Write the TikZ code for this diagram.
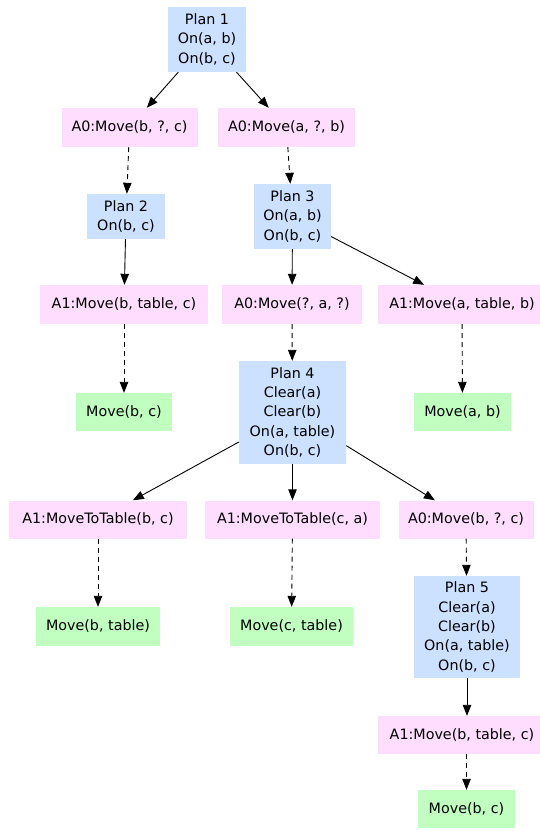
\documentclass[tikz,border=0pt]{standalone}
\usepackage{fontspec}
\setmainfont{DejaVu Sans}
\usetikzlibrary{arrows.meta}
\definecolor{planblue}{HTML}{CCE0FF}
\definecolor{actpink}{HTML}{FEDDFE}
\definecolor{resgreen}{HTML}{C0FFC0}
\begin{document}
\begin{tikzpicture}[x=1pt,y=-1pt,
  box/.style={inner sep=0pt, align=center,
    font=\fontsize{14.3}{19.3}\selectfont},
  plan/.style={box, fill=planblue},
  act/.style={box, fill=actpink, minimum height=39pt},
  res/.style={box, fill=resgreen, minimum height=38pt},
  link/.style={-{Triangle[length=11pt,width=8.5pt]}, line width=0.9pt},
  dlink/.style={link, dash pattern=on 5pt off 4pt}]
\useasboundingbox (0,0) rectangle (540,831);

% plans
\node[plan, minimum width=78pt, minimum height=65pt] (p1) at (207,39.5) {Plan 1\\On(a, b)\\On(b, c)};
\node[plan, minimum width=78pt, minimum height=45pt] (p2) at (126,216.5) {Plan 2\\On(b, c)};
\node[plan, minimum width=77pt, minimum height=65pt] (p3) at (292.5,216.5) {Plan 3\\On(a, b)\\On(b, c)};
\node[plan, minimum width=107pt, minimum height=103pt] (p4) at (292.5,412.5) {Plan 4\\Clear(a)\\Clear(b)\\On(a, table)\\On(b, c)};
\node[plan, minimum width=106pt, minimum height=102pt] (p5) at (467,627) {Plan 5\\Clear(a)\\Clear(b)\\On(a, table)\\On(b, c)};

% actions
\node[act, minimum width=136pt] (a0l) at (129.5,127.5) {A0:Move(b, ?, c)};
\node[act, minimum width=137pt] (a0r) at (286.5,127.5) {A0:Move(a, ?, b)};
\node[act, minimum width=168pt] (a1l) at (124,304.5) {A1:Move(b, table, c)};
\node[act, minimum width=140pt] (a0m) at (292,304.5) {A0:Move(?, a, ?)};
\node[act, minimum width=168pt] (a1r) at (462,304.5) {A1:Move(a, table, b)};
\node[act, minimum width=178pt, minimum height=38pt] (mt1) at (98,519.5) {A1:MoveToTable(b, c)};
\node[act, minimum width=175pt, minimum height=38pt] (mt2) at (292.5,519.5) {A1:MoveToTable(c, a)};
\node[act, minimum width=135pt, minimum height=38pt] (a0b) at (466,519.5) {A0:Move(b, ?, c)};
\node[act, minimum width=168pt, minimum height=38pt] (a1b) at (462,735) {A1:Move(b, table, c)};

% results
\node[res, minimum width=96pt] (r1) at (124,412) {Move(b, c)};
\node[res, minimum width=97pt] (r2) at (462.5,412) {Move(a, b)};
\node[res, minimum width=124pt, minimum height=39pt] (r3) at (98,626.5) {Move(b, table)};
\node[res, minimum width=123pt, minimum height=39pt] (r4) at (291.5,626.5) {Move(c, table)};
\node[res, minimum width=97pt] (r5) at (466.5,809) {Move(b, c)};

% edges
\draw[link] (p1) -- (a0l);
\draw[link] (p1) -- (a0r);
\draw[dlink] (a0l) -- (p2);
\draw[dlink] (a0r) -- (p3);
\draw[link] (p2) -- (a1l);
\draw[link] (p3) -- (a0m);
\draw[link] (p3) -- (a1r);
\draw[dlink] (a1l) -- (r1);
\draw[dlink] (a0m) -- (p4);
\draw[dlink] (a1r) -- (r2);
\draw[link] (p4) -- (mt1);
\draw[link] (p4) -- (mt2);
\draw[link] (p4) -- (a0b);
\draw[dlink] (mt1) -- (r3);
\draw[dlink] (mt2) -- (r4);
\draw[dlink] (a0b) -- (p5);
\draw[link] (p5) -- (p5 |- a1b.north);
\draw[dlink] (a1b.south -| r5) -- (r5);
\end{tikzpicture}
\end{document}
